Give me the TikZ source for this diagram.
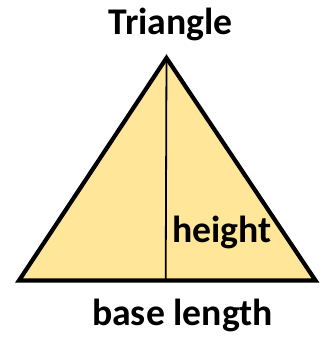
\documentclass[tikz,border=0pt]{standalone}
\usepackage{fontspec}
\setmainfont{Carlito}
\definecolor{trifill}{RGB}{255,230,153}
\begin{document}
\begin{tikzpicture}[x=1pt,y=-1pt,
  lbl/.style={anchor=base,inner sep=0pt,font=\fontsize{37.7}{40}\selectfont\bfseries},
  tri/.style={draw=black,line width=4.2pt,line join=miter,fill=trifill},
  alt/.style={draw=black,line width=1.8pt}]
\useasboundingbox (0,0) rectangle (322,337);
\coordinate (apex) at (166.5,58);
\coordinate (bl) at (19,280.5);
\coordinate (br) at (315.5,280.5);
\coordinate (foot) at (165.7,280.5);
\draw[tri] (apex) -- (bl) -- (br) -- cycle;
\draw[alt] (apex) -- (foot);
\node[lbl] (title) at (170.5,35) {Triangle};
\node[lbl] (h) at (222,242) {height};
\node[lbl] (b) at (182.5,325) {base length};
\end{tikzpicture}
\end{document}
